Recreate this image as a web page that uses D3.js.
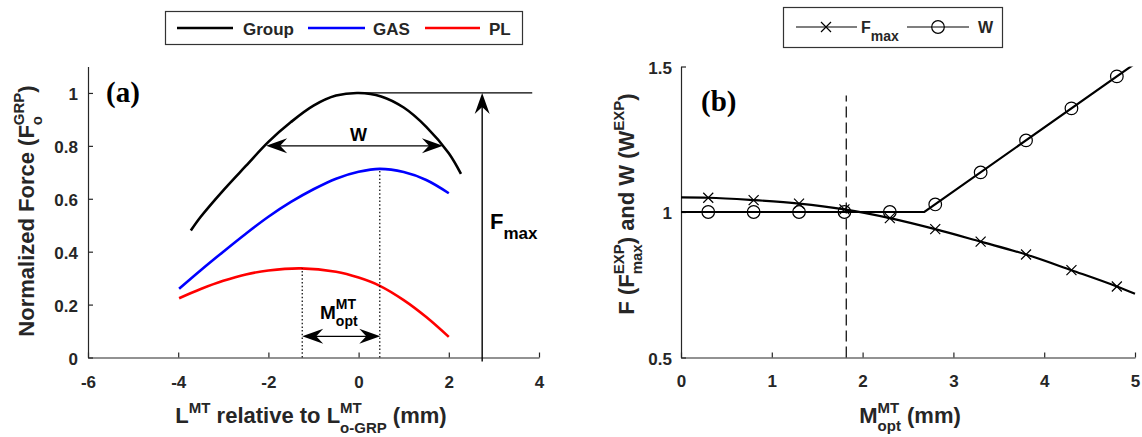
<!DOCTYPE html>
<html><head><meta charset="utf-8">
<script src="https://cdn.jsdelivr.net/npm/d3@7"></script>
<style>body{margin:0;background:#fff;} svg{display:block;} text{white-space:pre;}</style>
</head><body>
<svg id="c" width="1142" height="437"></svg>
<script>
// ---------- Panel (a) data ----------
const groupX = [-3.72, -3.5, -3, -2.5, -2, -1.5, -1, -0.5, 0, 0.5, 1, 1.5, 2, 2.27];
const groupY = [0.48, 0.532, 0.632, 0.724, 0.815, 0.89, 0.952, 0.99, 1.0, 0.987, 0.945, 0.872, 0.772, 0.694];
const gasX = [-3.98, -3.5, -3, -2.5, -2, -1.5, -1, -0.5, 0, 0.47, 1, 1.5, 2.0];
const gasY = [0.26, 0.33, 0.40, 0.468, 0.532, 0.588, 0.636, 0.676, 0.702, 0.713, 0.701, 0.671, 0.621];
const plX = [-3.98, -3.5, -3, -2.5, -2, -1.28, -0.5, 0, 0.47, 1, 1.5, 2.0];
const plY = [0.224, 0.259, 0.29, 0.314, 0.329, 0.337, 0.324, 0.302, 0.271, 0.217, 0.153, 0.078];
const xTicksA = [-6, -4, -2, 0, 2, 4];
const yTicksA = [0, 0.2, 0.4, 0.6, 0.8, 1];
const yTickLabelsA = ["0", "0.2", "0.4", "0.6", "0.8", "1"];
const legendA = ["Group", "GAS", "PL"];
const colorsA = ["#000000", "#0000ff", "#ff0000"];
// annotations (data units)
const wArrowX = [-2.05, 1.87], wArrowY = 0.80;
const mArrowX = [-1.25, 0.48], mArrowY = 0.08;
const plPeak = [-1.25, 0.337], gasPeak = [0.47, 0.713];
const fmaxRefX = [0.03, 3.85], fmaxRefY = 1.0;
const fmaxArrowX = 2.74, fmaxArrowY = [-0.015, 1.0];

// ---------- Panel (b) data ----------
const markX = [0.3, 0.8, 1.3, 1.8, 2.3, 2.8, 3.3, 3.8, 4.3, 4.8];
const fmaxVals = [1.049, 1.041, 1.029, 1.009, 0.979, 0.941, 0.898, 0.854, 0.80, 0.744];
const wVals = [1.0, 1.0, 1.0, 1.0, 1.0, 1.026, 1.136, 1.246, 1.356, 1.466];
const fLineX = [0, 0.3, 0.8, 1.3, 1.8, 2.3, 2.8, 3.3, 3.8, 4.3, 4.8, 5];
const fLineY = [1.05, 1.049, 1.041, 1.029, 1.009, 0.979, 0.941, 0.898, 0.854, 0.80, 0.744, 0.719];
const wLineX = [0, 2.68, 5];
const wLineY = [1.0, 1.0, 1.51];
const xTicksB = [0, 1, 2, 3, 4, 5];
const yTicksB = [0.5, 1, 1.5];
const yTickLabelsB = ["0.5", "1", "1.5"];
const dashX = 1.82, dashY = [0.5, 1.40];

const FONT = "'Liberation Sans', Arial, Helvetica, sans-serif";
const SERIF = "'Liberation Serif', 'Times New Roman', serif";
const AX = "#262626";
const svg = d3.select("#c");
svg.append("rect").attr("width", 1142).attr("height", 437).attr("fill", "#fff");

function rich(parent, parts, o) {
  const g = parent.append("g");
  const inner = g.append("g");
  let cx = 0, sx = 0, sw = 0;
  parts.forEach(p => {
    const t = inner.append("text").text(p.t)
      .attr("font-family", p.f || FONT).attr("font-weight", "bold")
      .attr("font-size", p.s).attr("fill", p.c || o.c || "#000");
    const px = p.stack === "cont" ? sx : cx;
    t.attr("x", px).attr("y", p.dy || 0);
    const w = t.node().getComputedTextLength();
    if (p.stack === "start") { sx = px; sw = w; cx = px + w; }
    else if (p.stack === "cont") { sw = Math.max(sw, w); cx = sx + sw; }
    else cx = px + w;
  });
  const bb = inner.node().getBBox();
  const off = o.anchor === "middle" ? -(bb.x + bb.width / 2) : o.anchor === "end" ? -(bb.x + bb.width) : 0;
  inner.attr("transform", `translate(${off},0)`);
  g.attr("transform", `translate(${o.x},${o.y}) rotate(${o.rotate || 0})`);
  return g;
}

function head(g, x, y, angleDeg) {
  g.append("path")
    .attr("d", "M0,0 L-21,-7.5 L-14,0 L-21,7.5 Z")
    .attr("fill", "#000")
    .attr("transform", `translate(${x},${y}) rotate(${angleDeg})`);
}

function styleAxis(g) {
  g.select(".domain").attr("stroke", AX).attr("stroke-width", 1.2);
  g.selectAll(".tick line").attr("stroke", AX).attr("stroke-width", 1.2);
  g.selectAll(".tick text").attr("font-family", FONT).attr("font-size", 17)
    .attr("font-weight", "bold").attr("fill", AX);
}

// ================= Panel (a) =================
const xA = d3.scaleLinear().domain([-6, 4]).range([88, 539]);
const yA = d3.scaleLinear().domain([0, 1.1]).range([357.5, 66.5]);

const gAx = svg.append("g").attr("transform", `translate(0,${yA(0)})`)
  .call(d3.axisBottom(xA).tickValues(xTicksA).tickFormat(d => String(d))
    .tickSize(-5).tickSizeOuter(0).tickPadding(18));
styleAxis(gAx);
const gAy = svg.append("g").attr("transform", `translate(${xA(-6)},0)`)
  .call(d3.axisLeft(yA).tickValues(yTicksA).tickFormat((d, i) => yTickLabelsA[i])
    .tickSize(-5).tickSizeOuter(0).tickPadding(10));
styleAxis(gAy);
gAy.selectAll(".tick text").attr("dy", "0.4em");

const lineA = d3.line().x(d => xA(d[0])).y(d => yA(d[1])).curve(d3.curveCatmullRom.alpha(0.5));
const seriesA = [d3.zip(groupX, groupY), d3.zip(gasX, gasY), d3.zip(plX, plY)];
seriesA.forEach((s, i) => {
  svg.append("path").attr("d", lineA(s)).attr("fill", "none")
    .attr("stroke", colorsA[i]).attr("stroke-width", 2.6);
});

const ann = svg.append("g");
[[plPeak[0], plPeak[1]], [gasPeak[0], gasPeak[1]]].forEach(p => {
  ann.append("line").attr("x1", xA(p[0])).attr("x2", xA(p[0]))
    .attr("y1", yA(0)).attr("y2", yA(p[1]))
    .attr("stroke", "#000").attr("stroke-width", 1.2).attr("stroke-dasharray", "1.5,2.2");
});
ann.append("line").attr("x1", xA(wArrowX[0]) + 8).attr("x2", xA(wArrowX[1]) - 8)
  .attr("y1", yA(wArrowY)).attr("y2", yA(wArrowY)).attr("stroke", "#000").attr("stroke-width", 1.2);
head(ann, xA(wArrowX[0]), yA(wArrowY), 180);
head(ann, xA(wArrowX[1]), yA(wArrowY), 0);
ann.append("line").attr("x1", xA(mArrowX[0]) + 8).attr("x2", xA(mArrowX[1]) - 8)
  .attr("y1", yA(mArrowY)).attr("y2", yA(mArrowY)).attr("stroke", "#000").attr("stroke-width", 1.2);
head(ann, xA(mArrowX[0]), yA(mArrowY), 180);
head(ann, xA(mArrowX[1]), yA(mArrowY), 0);
ann.append("line").attr("x1", xA(fmaxRefX[0])).attr("x2", xA(fmaxRefX[1]))
  .attr("y1", yA(fmaxRefY)).attr("y2", yA(fmaxRefY)).attr("stroke", "#000").attr("stroke-width", 1.2);
ann.append("line").attr("x1", xA(fmaxArrowX)).attr("x2", xA(fmaxArrowX))
  .attr("y1", yA(fmaxArrowY[0])).attr("y2", yA(fmaxArrowY[1]) + 8).attr("stroke", "#000").attr("stroke-width", 1.4);
head(ann, xA(fmaxArrowX), yA(fmaxArrowY[1]), -90);

rich(svg, [{ t: "W", s: 18 }], { x: xA(0), y: 141, anchor: "middle" });
rich(svg, [{ t: "M", s: 19 }, { t: "MT", s: 14, dy: -10, stack: "start" }, { t: "opt", s: 14, dy: 7, stack: "cont" }],
  { x: 320, y: 319 });
rich(svg, [{ t: "F", s: 22 }, { t: "max", s: 17, dy: 10 }], { x: 490, y: 229 });
svg.append("text").text("(a)").attr("x", 106).attr("y", 102).attr("font-family", SERIF)
  .attr("font-weight", "bold").attr("font-size", 29).attr("fill", "#000");

rich(svg, [{ t: "L", s: 22 }, { t: "MT", s: 15, dy: -10 }, { t: " relative to L", s: 22 },
  { t: "MT", s: 15, dy: -10, stack: "start" }, { t: "o-GRP", s: 15, dy: 10, stack: "cont" }, { t: " (mm)", s: 22 }],
  { x: 311, y: 423, anchor: "middle", c: AX });
rich(svg, [{ t: "Normalized Force (F", s: 22 }, { t: "GRP", s: 15, dy: -10, stack: "start" },
  { t: "o", s: 15, dy: 8, stack: "cont" }, { t: ")", s: 22 }],
  { x: 34, y: 211, anchor: "middle", rotate: -90, c: AX });

const legA = svg.append("g");
legA.append("rect").attr("x", 165.5).attr("y", 11.5).attr("width", 357).attr("height", 33)
  .attr("fill", "#fff").attr("stroke", "#333").attr("stroke-width", 1.2);
const legPos = [[177, 233, 243], [308, 365, 373], [425, 480, 489]];
legendA.forEach((name, i) => {
  legA.append("line").attr("x1", legPos[i][0]).attr("x2", legPos[i][1]).attr("y1", 28).attr("y2", 28)
    .attr("stroke", colorsA[i]).attr("stroke-width", 2.6);
  legA.append("text").text(name).attr("x", legPos[i][2]).attr("y", 34.5).attr("font-family", FONT)
    .attr("font-weight", "bold").attr("font-size", 17).attr("fill", AX);
});

// ================= Panel (b) =================
const xB = d3.scaleLinear().domain([0, 5]).range([681, 1135]);
const yB = d3.scaleLinear().domain([0.5, 1.5]).range([357.5, 66.5]);

svg.append("defs").append("clipPath").attr("id", "clipB").append("rect")
  .attr("x", xB(0)).attr("y", yB(1.5)).attr("width", xB(5) - xB(0) + 2).attr("height", yB(0.5) - yB(1.5));

const gBx = svg.append("g").attr("transform", `translate(0,${yB(0.5)})`)
  .call(d3.axisBottom(xB).tickValues(xTicksB).tickFormat(d => String(d))
    .tickSize(-5).tickSizeOuter(0).tickPadding(17));
styleAxis(gBx);
const gBy = svg.append("g").attr("transform", `translate(${xB(0)},0)`)
  .call(d3.axisLeft(yB).tickValues(yTicksB).tickFormat((d, i) => yTickLabelsB[i])
    .tickSize(-5).tickSizeOuter(0).tickPadding(9));
styleAxis(gBy);
gBy.selectAll(".tick text").attr("dy", "0.4em");

const plotB = svg.append("g").attr("clip-path", "url(#clipB)");
plotB.append("path").attr("d", d3.line().x(d => xB(d[0])).y(d => yB(d[1])).curve(d3.curveMonotoneX)(d3.zip(fLineX, fLineY)))
  .attr("fill", "none").attr("stroke", "#000").attr("stroke-width", 2.2);
plotB.append("path").attr("d", d3.line().x(d => xB(d[0])).y(d => yB(d[1]))(d3.zip(wLineX, wLineY)))
  .attr("fill", "none").attr("stroke", "#000").attr("stroke-width", 2.2);

svg.append("line").attr("x1", xB(dashX)).attr("x2", xB(dashX)).attr("y1", yB(dashY[0])).attr("y2", yB(dashY[1]))
  .attr("stroke", "#000").attr("stroke-width", 1.2).attr("stroke-dasharray", "11,5");

function cross(g, x, y) {
  const r = 5;
  g.append("path").attr("d", `M${x - r},${y - r}L${x + r},${y + r}M${x - r},${y + r}L${x + r},${y - r}`)
    .attr("stroke", "#000").attr("stroke-width", 1.2).attr("fill", "none");
}
function circ(g, x, y) {
  g.append("circle").attr("cx", x).attr("cy", y).attr("r", 6.3)
    .attr("stroke", "#000").attr("stroke-width", 1.2).attr("fill", "none");
}
const mk = svg.append("g");
markX.forEach((x, i) => {
  cross(mk, xB(x), yB(fmaxVals[i]));
  circ(mk, xB(x), yB(wVals[i]));
});

svg.append("text").text("(b)").attr("x", 701).attr("y", 111).attr("font-family", SERIF)
  .attr("font-weight", "bold").attr("font-size", 29).attr("fill", "#000");

rich(svg, [{ t: "M", s: 22 }, { t: "MT", s: 15, dy: -10, stack: "start" }, { t: "opt", s: 15, dy: 8, stack: "cont" }, { t: " (mm)", s: 22 }],
  { x: 910, y: 423, anchor: "middle", c: AX });
rich(svg, [{ t: "F (F", s: 22 }, { t: "EXP", s: 15, dy: -10, stack: "start" }, { t: "max", s: 15, dy: 8, stack: "cont" },
  { t: ") and W (W", s: 22 }, { t: "EXP", s: 15, dy: -10 }, { t: ")", s: 22 }],
  { x: 634, y: 204, anchor: "middle", rotate: -90, c: AX });

const legB = svg.append("g");
legB.append("rect").attr("x", 783.5).attr("y", 7.5).attr("width", 219).attr("height", 40)
  .attr("fill", "#fff").attr("stroke", "#333").attr("stroke-width", 1.2);
legB.append("line").attr("x1", 796).attr("x2", 857).attr("y1", 27).attr("y2", 27).attr("stroke", "#000").attr("stroke-width", 1.2);
cross(legB, 826, 27);
rich(legB, [{ t: "F", s: 16 }, { t: "max", s: 14, dy: 8 }], { x: 861, y: 33, c: AX });
legB.append("line").attr("x1", 907).attr("x2", 969).attr("y1", 27).attr("y2", 27).attr("stroke", "#000").attr("stroke-width", 1.2);
circ(legB, 938, 27);
legB.append("text").text("W").attr("x", 978).attr("y", 33).attr("font-family", FONT)
  .attr("font-weight", "bold").attr("font-size", 16).attr("fill", AX);
</script>
</body></html>
